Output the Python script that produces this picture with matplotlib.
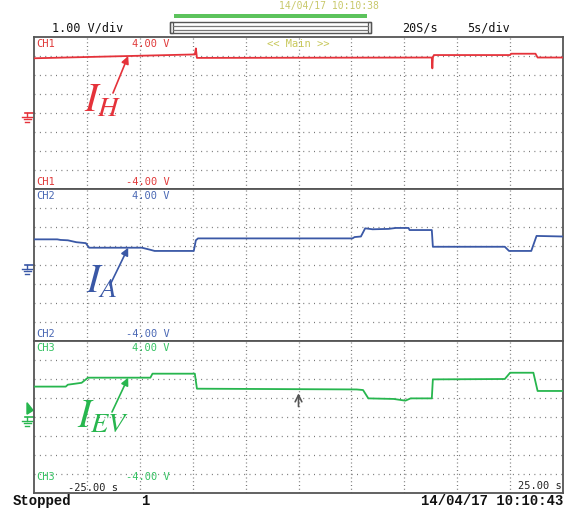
import matplotlib
matplotlib.use("Agg")
import numpy as np
import matplotlib.pyplot as plt
from matplotlib.patches import Rectangle, Polygon
from matplotlib.lines import Line2D

plt.rcParams["mathtext.fontset"] = "stix"

# trace breakpoints (time in s, level in V)
ih_t = [-25, -10.0, -9.8, -9.7, -9.6, 12.6, 12.65, 12.7, 12.8, 20.0, 20.1, 22.4, 22.6, 25]
ih_v = [2.88, 3.08, 3.08, 3.4, 2.9, 2.92, 2.35, 2.92, 3.05, 3.05, 3.12, 3.12, 2.92, 2.92]

ia_t = [-25, -22.8, -22.5, -21.8, -21.0, -20.1, -19.8, -14.8, -14.0, -13.6, -9.9, -9.7, -9.5,
        3.2, 5.1, 5.3, 5.9, 6.3, 7.0, 8.5, 9.2, 10.4, 10.5, 12.6, 12.7, 19.5, 19.9, 22.0, 22.5, 25]
ia_v = [1.35, 1.35, 1.32, 1.3, 1.2, 1.15, 0.91, 0.91, 0.8, 0.74, 0.74, 1.3, 1.4,
        1.4, 1.4, 1.47, 1.5, 1.93, 1.88, 1.9, 1.95, 1.95, 1.84, 1.84, 0.96, 0.96, 0.74, 0.74, 1.53, 1.5]

iev_t = [-25, -22.0, -21.8, -20.5, -19.9, -14.0, -13.8, -9.8, -9.6, 5.5, 6.1, 6.6, 9.0, 10.1,
         10.6, 12.6, 12.7, 19.5, 20.0, 22.2, 22.6, 25]
iev_v = [1.6, 1.6, 1.7, 1.8, 2.07, 2.07, 2.28, 2.28, 1.49, 1.45, 1.42, 0.98, 0.95, 0.86,
         0.98, 0.98, 1.98, 2.0, 2.33, 2.33, 1.37, 1.37]

channels = ["CH1", "CH2", "CH3"]
labels = [r"$I_H$", r"$I_A$", r"$I_{EV}$"]
trace_colors = ["#e5323a", "#3a58a6", "#27b64e"]
text_colors = ["#e03a3a", "#4a68b4", "#34c262"]
traces = [(ih_t, ih_v), (ia_t, ia_v), (iev_t, iev_v)]

W, H = 578, 514
fig = plt.figure(figsize=(W / 100, H / 100), dpi=100)


def fx(x):
    return x / W


def fy(y):
    return 1 - y / H


mono = "DejaVu Sans Mono"
left, right = 34, 563
tops = [37, 189, 341]
ph = 152
frame_col = "#555555"
grid_col = "#777777"

# label placement (pixels): text baseline-left, arrow tail; arrow head time (s)
lab_pos = [(84, 112), (86, 293), (77, 427)]
arr_tail = [(113, 93), (110, 285), (112, 412)]
arr_head_t = [-16.1, -16.1, -16.1]
bottom_lab_y = [0.012, 0.012, 0.07]

axes = []
for i in range(3):
    ax = fig.add_axes([fx(left), fy(tops[i] + ph), fx(right - left), ph / H])
    axes.append(ax)
    ax.set_xlim(-25, 25)
    ax.set_ylim(-4, 4)
    for sp in ax.spines.values():
        sp.set_color(frame_col)
        sp.set_linewidth(1.3)
    ax.set_xticks([])
    ax.set_yticks([])
    for gx in range(-20, 25, 5):
        ax.axvline(gx, color=grid_col, lw=0.9, ls=(0, (0.8, 2.2)), zorder=1)
    for gy in range(-3, 4):
        ax.axhline(gy, color=grid_col, lw=0.9, ls=(0, (0.8, 3.5)), zorder=1)

    t, v = traces[i]
    ax.plot(t, v, color=trace_colors[i], lw=1.3, zorder=3)

    c = text_colors[i]
    ax.text(0.004, 0.985, channels[i], transform=ax.transAxes, color=c,
            family=mono, fontsize=7.5, ha="left", va="top")
    ax.text(0.256, 0.985, "4.00 V", transform=ax.transAxes, color=c,
            family=mono, fontsize=7.5, ha="right", va="top")
    ax.text(0.004, bottom_lab_y[i], channels[i], transform=ax.transAxes, color=c,
            family=mono, fontsize=7.5, ha="left", va="bottom")
    ax.text(0.256, bottom_lab_y[i], "-4.00 V", transform=ax.transAxes, color=c,
            family=mono, fontsize=7.5, ha="right", va="bottom")

    # ground marker at 0 V, left of the frame
    tr = ax.get_yaxis_transform()
    k = 1 / (right - left)
    gcol = trace_colors[i]
    ax.add_line(Line2D([-9 * k, 0], [0, 0], transform=tr, color=gcol, lw=1.2, clip_on=False))
    ax.add_line(Line2D([-7 * k, -7 * k], [0, -0.22], transform=tr, color=gcol, lw=1.0, clip_on=False))
    for j, wdt in enumerate([5, 3.5, 2]):
        yy = -0.22 - j * 0.12
        ax.add_line(Line2D([(-7 - wdt) * k, (-7 + wdt) * k], [yy, yy], transform=tr,
                           color=gcol, lw=1.0, clip_on=False))

    # hand-drawn label with arrow pointing at the trace
    fig.text(fx(lab_pos[i][0]), fy(lab_pos[i][1]), labels[i], color=trace_colors[i],
             fontsize=29, ha="left", va="baseline")
    ht = arr_head_t[i]
    hv = float(np.interp(ht, t, v))
    ax.annotate("", xy=(ht, hv), xycoords="data",
                xytext=(fx(arr_tail[i][0]), fy(arr_tail[i][1])), textcoords="figure fraction",
                arrowprops=dict(arrowstyle="-|>", color=trace_colors[i], lw=1.2,
                                mutation_scale=11, shrinkA=0, shrinkB=0),
                annotation_clip=False)

axes[0].text(0.5, 0.985, "<< Main >>", transform=axes[0].transAxes, color="#c8c85a",
             family=mono, fontsize=7.5, ha="center", va="top")

# trigger marker on CH3 and time cursor
ax3 = axes[2]
tr3 = ax3.get_yaxis_transform()
k = 1 / (right - left)
ax3.add_patch(Polygon([[-7 * k, 0.75], [-7 * k, 0.15], [-1 * k, 0.35]], closed=True,
                      transform=tr3, color=trace_colors[2], clip_on=False))
ax3.annotate("", xy=(0, 1.25), xytext=(0, 0.55),
             arrowprops=dict(arrowstyle="->", color="#555555", lw=1.2, mutation_scale=12,
                             shrinkA=0, shrinkB=0))
ax3.text(0.112, 0.0, "-25.00 s", transform=ax3.transAxes, color="#222222",
         family=mono, fontsize=7.5, ha="center", va="bottom")
ax3.text(0.997, 0.01, "25.00 s", transform=ax3.transAxes, color="#222222",
         family=mono, fontsize=7.5, ha="right", va="bottom")

# header
fig.text(fx(52), fy(28), "1.00 V/div", family=mono, fontsize=8.5, color="#111111",
         ha="left", va="center")
fig.text(fx(402), fy(28), "20S/s", family=mono, fontsize=8.5, color="#111111",
         ha="left", va="center")
fig.text(fx(510), fy(28), "5s/div", family=mono, fontsize=8.5, color="#111111",
         ha="right", va="center")
fig.text(fx(329), fy(6), "14/04/17 10:10:38", family=mono, fontsize=7, color="#c8c86a",
         ha="center", va="center")
fig.patches.append(Rectangle((fx(174), fy(17.5)), fx(193), 4 / H, transform=fig.transFigure,
                             color="#5cc35c", lw=0))
fig.patches.append(Rectangle((fx(170), fy(33)), fx(201), 11 / H, transform=fig.transFigure,
                             fill=False, ec="#555555", lw=1.0))
for xx in (170, 368):
    fig.patches.append(Rectangle((fx(xx), fy(33)), fx(3), 11 / H, transform=fig.transFigure,
                                 fill=False, ec="#555555", lw=0.9))
for yy in (25.5, 29.5):
    fig.lines.append(Line2D([fx(173), fx(368)], [fy(yy), fy(yy)], transform=fig.transFigure,
                            color="#777777", lw=0.9))

# footer
fig.text(fx(13), fy(501), "Stopped", family="Liberation Mono", fontweight="bold",
         fontsize=10, color="#111111", ha="left", va="center")
fig.text(fx(145), fy(501), "1", family="Liberation Mono", fontweight="bold",
         fontsize=10, color="#111111", ha="center", va="center")
fig.text(fx(563), fy(501), "14/04/17 10:10:43", family="Liberation Mono", fontweight="bold",
         fontsize=10, color="#111111", ha="right", va="center")

fig.savefig("out.png", dpi=100, facecolor="white")
